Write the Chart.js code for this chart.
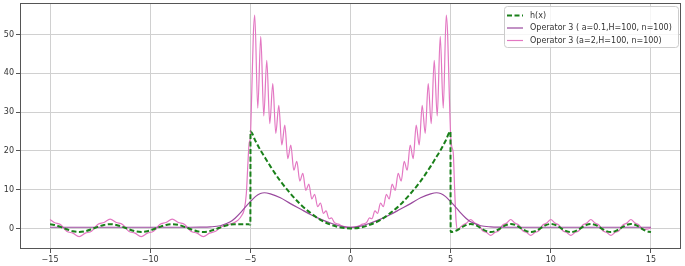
<!DOCTYPE html>
<html>
<head>
<meta charset="utf-8">
<script src="https://cdn.jsdelivr.net/npm/chart.js@4.4.1/dist/chart.umd.min.js"></script>
<style>
  html, body { margin: 0; padding: 0; background: #fff; }
  #wrap { width: 685px; height: 266px; }
</style>
</head>
<body>
<div id="wrap"><canvas id="plot" width="685" height="266"></canvas></div>
<script>
// axis ticks
const xTicks = [-15, -10, -5, 0, 5, 10, 15];
const yTicks = [0, 10, 20, 30, 40, 50];

const seriesLabels = ["h(x)", "Operator 3 ( a=0.1,H=100, n=100)", "Operator 3 (a=2,H=100, n=100)"];

// h(x)
const hX = [-15, -14.79, -14.48, -14.17, -13.86, -13.55, -13.24, -12.93, -12.62, -12.31,
  -12.0, -11.69, -11.38, -11.07, -10.76, -10.45, -10.14, -9.83, -9.52, -9.21,
  -8.9, -8.59, -8.28, -7.97, -7.66, -7.35, -7.04, -6.73, -6.42, -6.11,
  -5.8, -5.5, -5.2, -5.0,
  -4.99, -4.75, -4.5, -4.25, -4.0, -3.5, -3.0, -2.5, -2.0, -1.5, -1.0, -0.5, 0,
  0.5, 1.0, 1.5, 2.0, 2.5, 3.0, 3.5, 4.0, 4.25, 4.5, 4.75, 4.99,
  5.0, 5.25, 5.5, 5.75, 6.0, 6.25, 6.5, 6.75, 7.0, 7.25, 7.5, 7.75, 8.0, 8.25, 8.5, 8.75,
  9.0, 9.25, 9.5, 9.75, 10.0, 10.25, 10.5, 10.75, 11.0, 11.25, 11.5, 11.75, 12.0, 12.25,
  12.5, 12.75, 13.0, 13.25, 13.5, 13.75, 14.0, 14.25, 14.5, 14.75, 15.0];
const hY = [1.08, 0.91, 0.41, -0.21, -0.71, -0.9, -0.71, -0.21, 0.41, 0.91,
  1.1, 0.91, 0.41, -0.21, -0.71, -0.9, -0.71, -0.21, 0.41, 0.91,
  1.1, 0.91, 0.41, -0.21, -0.71, -0.9, -0.71, -0.21, 0.41, 0.91,
  1.1, 1.1, 1.1, 1.0,
  25, 22.6, 20.2, 18.1, 16, 12.2, 9, 6.2, 4, 2.2, 1, 0.25, 0,
  0.25, 1, 2.2, 4, 6.2, 9, 12.2, 16, 18.1, 20.2, 22.6, 25,
  -0.95, -0.64, 0.1, 0.84, 1.15, 0.84, 0.1, -0.64, -0.95, -0.64, 0.1, 0.84, 1.15, 0.84, 0.1, -0.64,
  -0.95, -0.64, 0.1, 0.84, 1.15, 0.84, 0.1, -0.64, -0.95, -0.64, 0.1, 0.84, 1.15, 0.84,
  0.1, -0.64, -0.95, -0.64, 0.1, 0.84, 1.15, 0.84, 0.1, -0.64, -0.95];

// Operator 3, a=0.1
const op1X = [-15, -12, -9, -8, -7.5, -7, -6.5, -6, -5.75, -5.5, -5.25, -5, -4.75, -4.5, -4.3, -4,
  -3.5, -3, -2.5, -2, -1.5, -1, -0.5, 0, 0.5, 1, 1.5, 2, 2.5, 3, 3.5,
  4, 4.3, 4.5, 4.75, 5, 5.25, 5.5, 5.75, 6, 6.5, 7, 7.5, 8, 9, 12, 15];
const op1Y = [0.3, 0.3, 0.3, 0.3, 0.32, 0.4, 0.7, 1.7, 2.7, 4.0, 5.5, 6.9, 8.2, 9.0, 9.2, 8.9,
  7.9, 6.4, 5.0, 3.6, 2.4, 1.4, 0.6, 0.25, 0.6, 1.4, 2.4, 3.6, 5.0, 6.4, 7.9,
  8.9, 9.2, 9.0, 8.2, 6.9, 5.5, 4.0, 2.7, 1.7, 0.7, 0.4, 0.32, 0.3, 0.3, 0.3, 0.3];

// Operator 3, a=2
const op2X = [-15, -14.79, -14.48, -14.17, -13.86, -13.55, -13.24, -12.93, -12.62, -12.31,
  -12.0, -11.69, -11.38, -11.07, -10.76, -10.45, -10.14, -9.83, -9.52, -9.21,
  -8.9, -8.59, -8.28, -7.97, -7.66, -7.35, -7.04, -6.73, -6.42, -6.11,
  -5.8, -5.6, -5.45, -5.3, -5.2, -5.12, -5.06, -5.0, -4.93, -4.85, -4.78,
  -4.63, -4.48, -4.33, -4.18, -4.03, -3.88, -3.73, -3.58, -3.43, -3.28, -3.13, -2.98,
  -2.83, -2.68, -2.53, -2.38, -2.23, -2.08, -1.93, -1.79, -1.64, -1.5, -1.35, -1.22,
  -1.07, -0.95, -0.8, -0.6, -0.4, -0.2, 0,
  0.2, 0.4, 0.6, 0.8, 0.95, 1.07, 1.22, 1.35, 1.5, 1.64, 1.79, 1.93, 2.08, 2.23,
  2.38, 2.53, 2.68, 2.83, 2.98, 3.13, 3.28, 3.43, 3.58, 3.73, 3.88, 4.03, 4.18,
  4.33, 4.48, 4.63, 4.78,
  4.85, 4.93, 5.0, 5.06, 5.13, 5.2, 5.27, 5.35, 5.5, 5.65, 5.8,
  6.0, 6.2, 6.4, 6.6, 6.8, 7.0, 7.2, 7.4, 7.6, 7.8, 8.0, 8.2, 8.4, 8.6, 8.8,
  9.0, 9.2, 9.4, 9.6, 9.8, 10.0, 10.2, 10.4, 10.6, 10.8, 11.0, 11.2, 11.4, 11.6, 11.8,
  12.0, 12.2, 12.4, 12.6, 12.8, 13.0, 13.2, 13.4, 13.6, 13.8, 14.0, 14.2, 14.4, 14.6, 14.8, 15.0];
const op2Y = [2.3, 1.52, 1.02, -0.72, -1.22, -2.1, -1.22, -0.72, 1.02, 1.52,
  2.4, 1.52, 1.02, -0.72, -1.22, -2.1, -1.22, -0.72, 1.02, 1.52,
  2.4, 1.52, 1.02, -0.72, -1.22, -2.1, -1.22, -0.72, 0.5, 1.0,
  1.5, 2.2, 3.2, 5.0, 9.0, 17, 22, 23.5, 35, 50, 55,
  31, 49.5, 29, 43.3, 27, 37.3, 24.5, 31.7, 21.5, 26.6, 18, 21.5,
  15, 17.3, 12.2, 14.2, 9.8, 11.4, 7.6, 8.8, 5.6, 6.5, 3.9, 4.5,
  2.5, 2.7, 1.5, 1.1, 0.6, 0.35, 0.3,
  0.35, 0.6, 1.1, 1.5, 2.7, 2.5, 4.5, 3.9, 6.5, 5.6, 8.8, 7.6, 11.4, 9.8,
  14.2, 12.2, 17.3, 15, 21.5, 18, 26.6, 21.5, 31.7, 24.5, 37.3, 27, 43.3,
  29, 49.5, 31, 55,
  50, 35, 24, 21, 19.5, 10, 2, -0.3, 0.4, 1.0, 1.4,
  2.3, 1.37, 0.89, -0.59, -1.07, -1.8, -1.07, -0.59, 0.89, 1.37, 2.3, 1.37, 0.89, -0.59, -1.07,
  -1.8, -1.07, -0.59, 0.89, 1.37, 2.3, 1.37, 0.89, -0.59, -1.07, -1.8, -1.07, -0.59, 0.89, 1.37,
  2.3, 1.37, 0.89, -0.59, -1.07, -1.8, -1.07, -0.59, 0.89, 1.37, 2.3, 1.37, 0.89, -0.3, -0.2, 0.1];

const tickFont = { family: "DejaVu Sans", size: 8 };
const textColor = "#333";

function toPoints(xs, ys) {
  return xs.map((x, i) => ({ x: x, y: ys[i] }));
}

function fmtTick(v) {
  return v < 0 ? "\u2212" + Math.abs(v) : String(v);
}

// spines on all four sides
const framePlugin = {
  id: "frame",
  afterDraw(chart) {
    const a = chart.chartArea;
    const ctx = chart.ctx;
    ctx.save();
    ctx.strokeStyle = "#555";
    ctx.lineWidth = 1;
    ctx.strokeRect(Math.round(a.left) + 0.5, Math.round(a.top) + 0.5,
      Math.round(a.right - a.left) - 1, Math.round(a.bottom - a.top) - 1);
    ctx.restore();
  }
};

// matplotlib style legend box, upper right
const legendPlugin = {
  id: "boxLegend",
  afterDraw(chart) {
    const ctx = chart.ctx;
    const left = 504, top = 6, w = 174, h = 41;
    ctx.save();
    ctx.beginPath();
    ctx.roundRect(left + 0.5, top + 0.5, w, h, 3);
    ctx.fillStyle = "rgba(255,255,255,0.8)";
    ctx.fill();
    ctx.strokeStyle = "#cccccc";
    ctx.lineWidth = 1;
    ctx.stroke();
    ctx.font = '8px "DejaVu Sans"';
    ctx.textBaseline = "middle";
    ctx.fillStyle = textColor;
    chart.data.datasets.forEach((ds, i) => {
      const y = top + 9.5 + i * 12.5;
      ctx.beginPath();
      ctx.strokeStyle = ds.borderColor;
      ctx.lineWidth = ds.borderWidth;
      ctx.setLineDash(ds.borderDash || []);
      ctx.moveTo(507, y);
      ctx.lineTo(523, y);
      ctx.stroke();
      ctx.setLineDash([]);
      ctx.fillText(ds.label, 530, y);
    });
    ctx.restore();
  }
};

const whiteBg = {
  id: "whiteBg",
  beforeDraw(chart) {
    const ctx = chart.ctx;
    ctx.save();
    ctx.fillStyle = "#fff";
    ctx.fillRect(0, 0, chart.width, chart.height);
    ctx.restore();
  }
};

new Chart(document.getElementById("plot"), {
  type: "line",
  data: {
    datasets: [
      {
        label: seriesLabels[0],
        data: toPoints(hX, hY),
        borderColor: "#1a801a",
        borderWidth: 2,
        borderDash: [5, 2.5]
      },
      {
        label: seriesLabels[1],
        data: toPoints(op1X, op1Y),
        borderColor: "#9a4a9e",
        borderWidth: 1.2
      },
      {
        label: seriesLabels[2],
        data: toPoints(op2X, op2Y),
        borderColor: "#e377c2",
        borderWidth: 1.2
      }
    ]
  },
  options: {
    responsive: false,
    devicePixelRatio: 1,
    animation: false,
    layout: { padding: { top: 3, right: 4, left: 0, bottom: 0 } },
    elements: {
      point: { radius: 0 },
      line: { cubicInterpolationMode: "monotone", fill: false }
    },
    plugins: {
      legend: { display: false },
      tooltip: { enabled: false }
    },
    scales: {
      x: {
        type: "linear",
        min: -16.5,
        max: 16.5,
        afterBuildTicks: s => { s.ticks = xTicks.map(v => ({ value: v })); },
        afterFit: s => { s.height = 17; s.paddingLeft = 0; s.paddingRight = 0; },
        border: { display: false },
        grid: { color: "#d0d0d0", lineWidth: 1, tickColor: "#555", tickLength: 4 },
        ticks: { font: tickFont, color: textColor, padding: 2, maxRotation: 0, autoSkip: false, callback: fmtTick }
      },
      y: {
        type: "linear",
        min: -5.3,
        max: 58.1,
        afterBuildTicks: s => { s.ticks = yTicks.map(v => ({ value: v })); },
        afterFit: s => { s.width = 20; s.paddingTop = 0; s.paddingBottom = 0; },
        border: { display: false },
        grid: { color: "#d0d0d0", lineWidth: 1, tickColor: "#555", tickLength: 4 },
        ticks: { font: tickFont, color: textColor, padding: 2, callback: fmtTick }
      }
    }
  },
  plugins: [whiteBg, framePlugin, legendPlugin]
});
</script>
</body>
</html>
